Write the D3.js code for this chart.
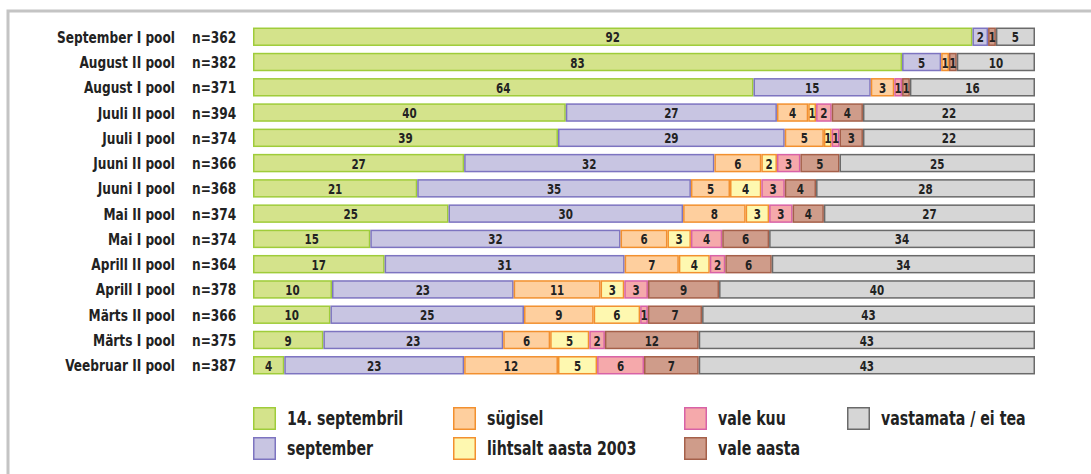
<!DOCTYPE html>
<html>
<head>
<meta charset="utf-8">
<script src="https://cdn.jsdelivr.net/npm/d3@7"></script>
<style>
  body { margin: 0; background: #fff; }
  svg { display: block; font-family: "DejaVu Sans Condensed", "DejaVu Sans", sans-serif; font-weight: bold; }
</style>
</head>
<body>
<div id="chart"></div>
<script>
// ── Data ────────────────────────────────────────────────────────────────────
const periods = [
  "September I pool", "August II pool", "August I pool", "Juuli II pool", "Juuli I pool",
  "Juuni II pool", "Juuni I pool", "Mai II pool", "Mai I pool", "Aprill II pool",
  "Aprill I pool", "Märts II pool", "Märts I pool", "Veebruar II pool"
];
const counts = [362, 382, 371, 394, 374, 366, 368, 374, 374, 364, 378, 366, 375, 387];

const seriesNames = ["14. septembril", "september", "sügisel", "lihtsalt aasta 2003", "vale kuu", "vale aasta", "vastamata / ei tea"];
const sept14     = [92, 83, 64, 40, 39, 27, 21, 25, 15, 17, 10, 10,  9,  4];
const september  = [ 2,  5, 15, 27, 29, 32, 35, 30, 32, 31, 23, 25, 23, 23];
const sygisel    = [ 0,  1,  3,  4,  5,  6,  5,  8,  6,  7, 11,  9,  6, 12];
const aasta2003  = [ 0,  0,  0,  1,  1,  2,  4,  3,  3,  4,  3,  6,  5,  5];
const valeKuu    = [ 0,  0,  1,  2,  1,  3,  3,  3,  4,  2,  3,  1,  2,  6];
const valeAasta  = [ 1,  1,  1,  4,  3,  5,  4,  4,  6,  6,  9,  7, 12,  7];
const vastamata  = [ 5, 10, 16, 22, 22, 25, 28, 27, 34, 34, 40, 43, 43, 43];

const FILLS   = ["#d4e38b", "#c8c5e2", "#fecf9e", "#fef8b0", "#f5a9ab", "#cf9c8a", "#d6d6d6"];
const STROKES = ["#9fcc3a", "#7d74c0", "#f2902f", "#f2902f", "#d862a6", "#a5604a", "#6a6a6a"];

// ── Layout ──────────────────────────────────────────────────────────────────
const W = 1091, H = 474;
const svg = d3.select("#chart").append("svg").attr("width", W).attr("height", H);

// narrow bold text: the original uses a condensed face, squeeze horizontally
function label(parent, x, y, str, size, anchor, sx) {
  parent.append("text")
    .attr("transform", `translate(${x},${y}) scale(${sx},1)`)
    .attr("font-size", size).attr("text-anchor", anchor).attr("dy", "0.36em")
    .text(str);
}

// frame (top + left)
svg.append("path").attr("d", `M8,${H} V11 H${W}`)
  .attr("fill", "none").attr("stroke", "#c4c4c4").attr("stroke-width", 3);

const cols = [sept14, september, sygisel, aasta2003, valeKuu, valeAasta, vastamata];
const rows = periods.map((p, i) => {
  const r = { period: p, n: counts[i] };
  seriesNames.forEach((s, k) => { r[s] = cols[k][i]; });
  return r;
});

const stacked = d3.stack().keys(seriesNames).offset(d3.stackOffsetExpand)(rows);

const x = d3.scaleLinear().domain([0, 1]).range([253, 1035]);
const y = d3.scaleBand().domain(periods).range([25, 377]).paddingInner(0.27).paddingOuter(0.1);

const layer = svg.append("g").selectAll("g").data(stacked).join("g")
  .attr("fill", (d, i) => FILLS[i]).attr("stroke", (d, i) => STROKES[i]).attr("stroke-width", 1.5);

layer.selectAll("rect").data(d => d.filter(v => v[1] - v[0] > 0)).join("rect")
  .attr("x", d => x(d[0]) + 0.75)
  .attr("y", d => y(d.data.period) + 0.75)
  .attr("width", d => Math.max(0, x(d[1]) - x(d[0]) - 1.5))
  .attr("height", y.bandwidth() - 1.5);

// value labels
const lab = svg.append("g").attr("fill", "#222");
stacked.forEach((s) => {
  s.forEach((d) => {
    const v = d.data[s.key];
    if (!v) return;
    label(lab, (x(d[0]) + x(d[1])) / 2, y(d.data.period) + y.bandwidth() / 2 + 0.5, v, 14, "middle", 0.82);
  });
});

// row labels
const rl = svg.append("g").attr("fill", "#222");
rows.forEach((r) => {
  const cy = y(r.period) + y.bandwidth() / 2;
  label(rl, 175, cy, r.period, 16.5, "end", 0.82);
  label(rl, 192, cy, "n=" + r.n, 16.5, "start", 0.82);
});

// ── Legend ──────────────────────────────────────────────────────────────────
const legX = [253, 453, 684, 847];
const legPos = [[0, 0], [0, 1], [1, 0], [1, 1], [2, 0], [2, 1], [3, 0]];
const leg = svg.append("g").attr("fill", "#222");
seriesNames.forEach((s, i) => {
  const [c, r] = legPos[i];
  const lx = legX[c], ly = 407 + r * 30;
  leg.append("rect").attr("x", lx + 0.75).attr("y", ly + 0.75).attr("width", 21.5).attr("height", 21.5)
    .attr("fill", FILLS[i]).attr("stroke", STROKES[i]).attr("stroke-width", 1.5);
  label(leg, lx + 34, ly + 11, s, 19, "start", 0.83);
});
</script>
</body>
</html>
